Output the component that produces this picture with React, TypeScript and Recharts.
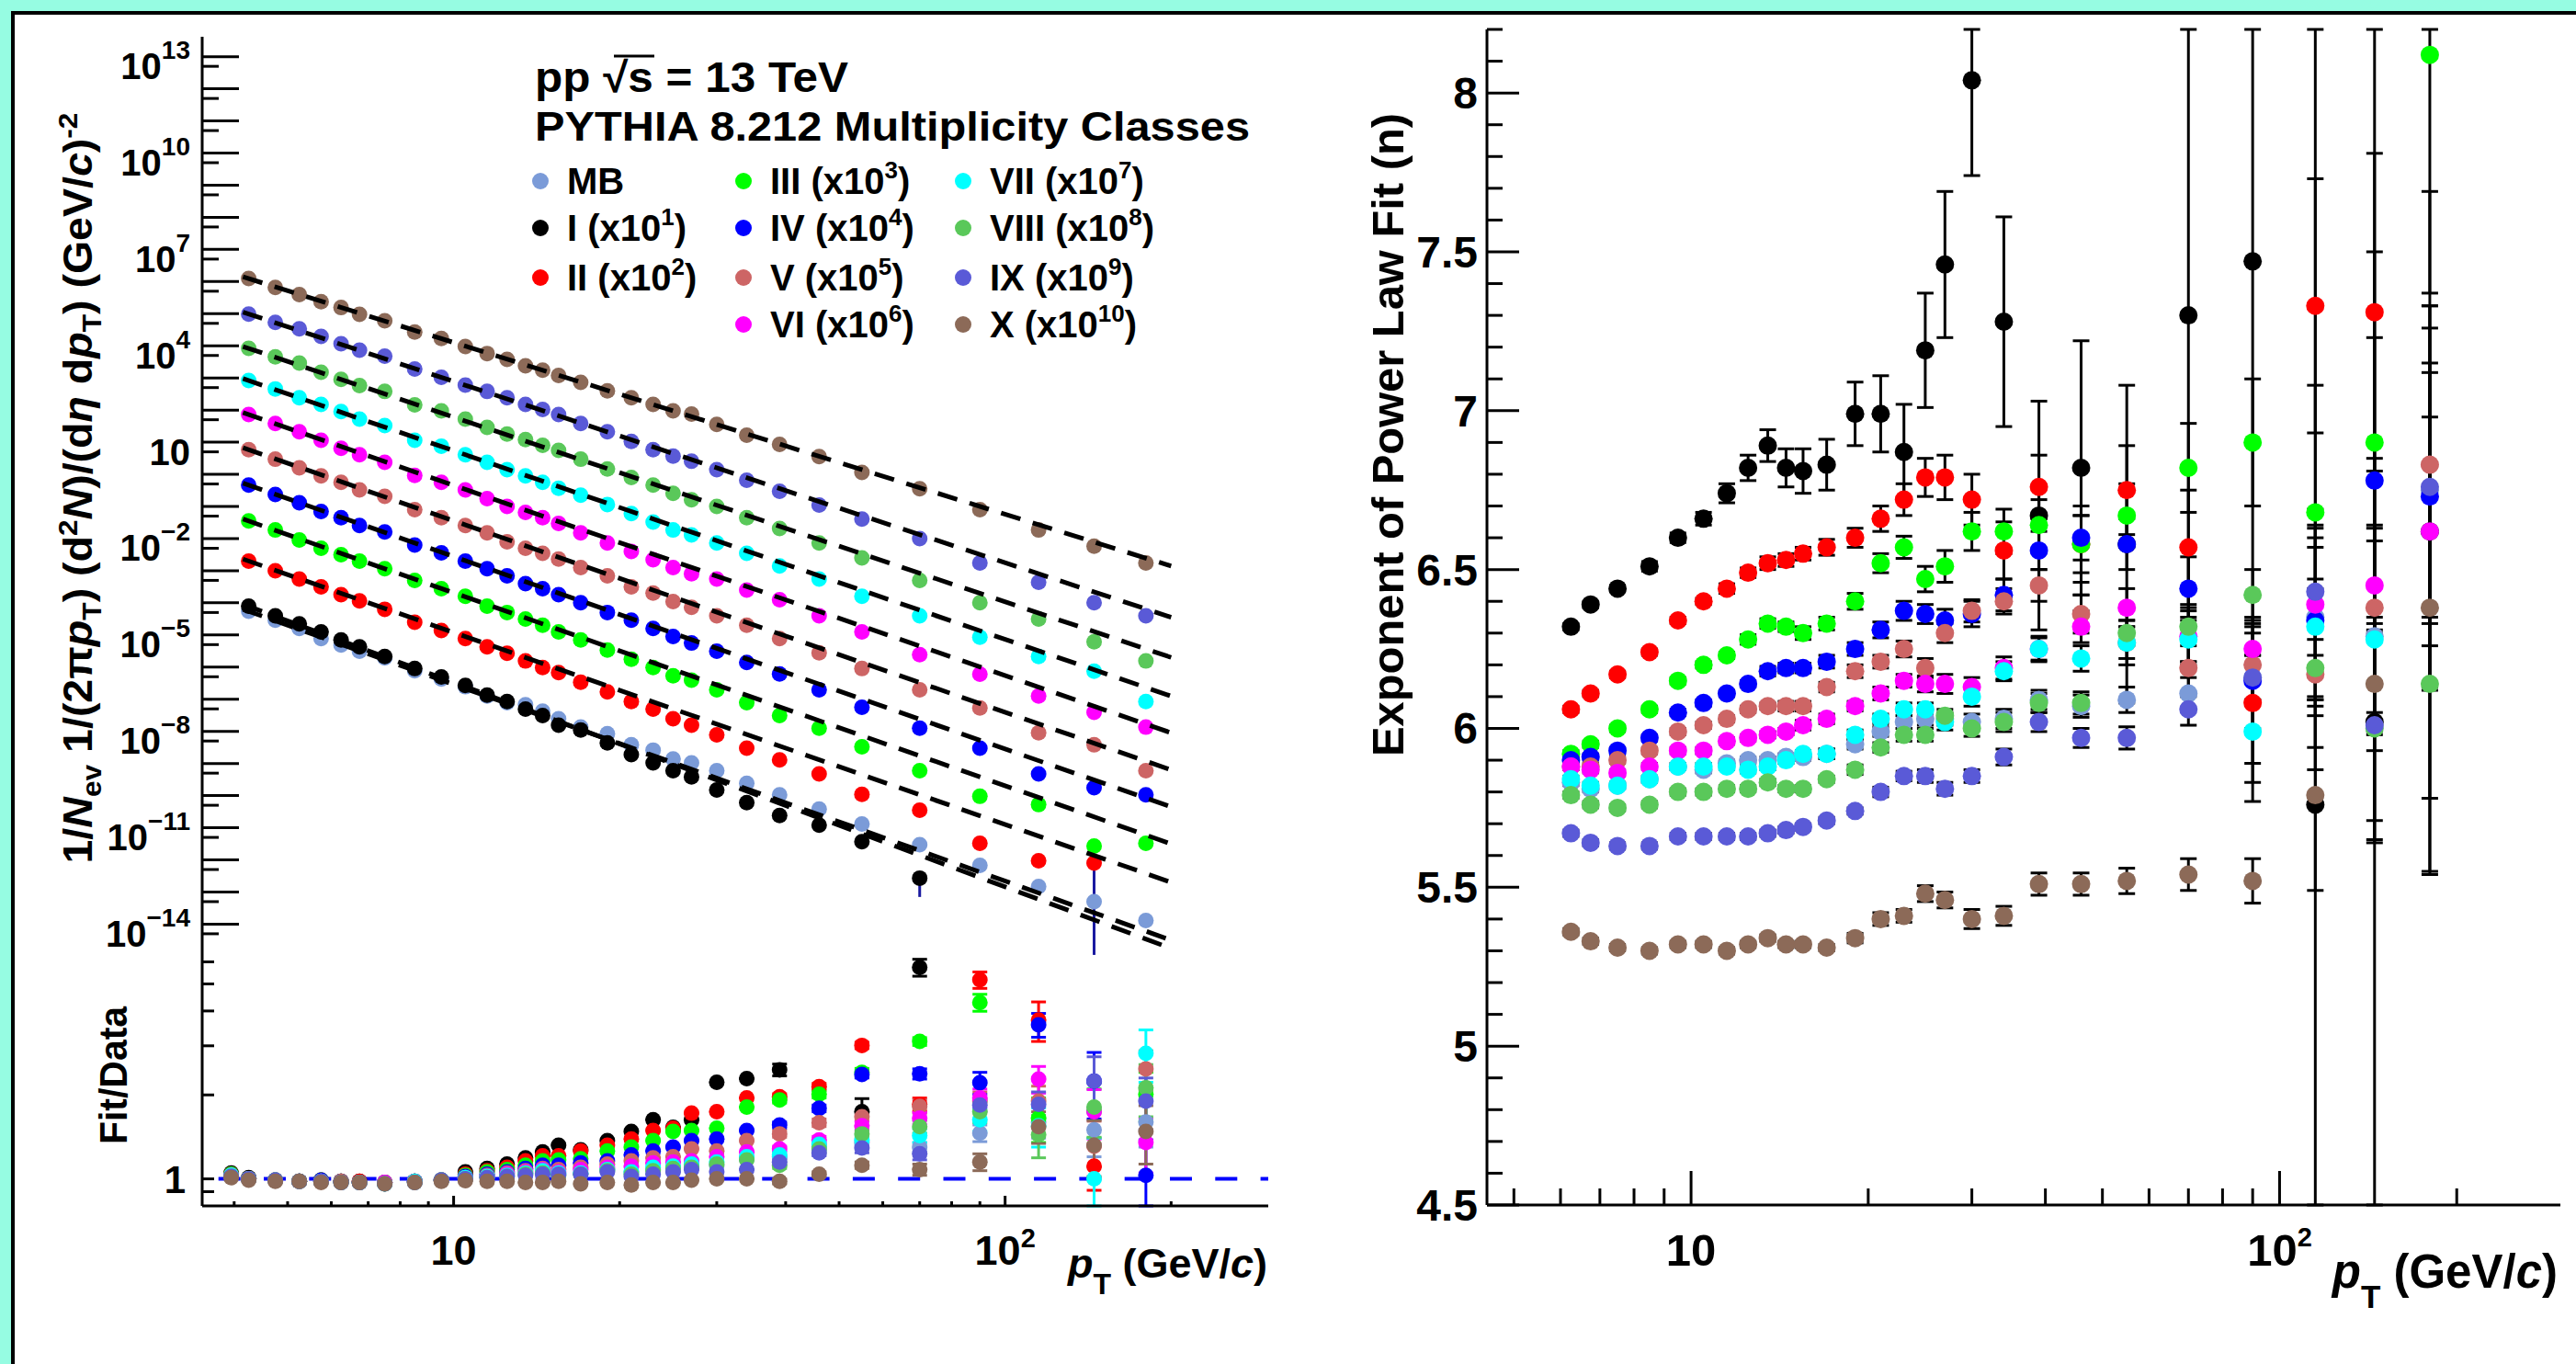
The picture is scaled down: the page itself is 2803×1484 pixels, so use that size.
import React from "react";
import { ScatterChart, Scatter, XAxis, YAxis, ErrorBar, ReferenceLine } from "recharts";

const FONT = "'Liberation Sans', Arial, Helvetica, sans-serif";

// multiplicity classes
const CLASS_NAMES = ["MB", "I", "II", "III", "IV", "V", "VI", "VII", "VIII", "IX", "X"];
const CLASS_POW = ["", "1", "2", "3", "4", "5", "6", "7", "8", "9", "10"];
const CLASS_COLORS = ["#7b9bd8", "#000000", "#ff0000", "#00ff00", "#0000ff", "#cd6565", "#ff00ff", "#00ffff", "#5ac85a", "#5a5ad7", "#8c6a58"];

// pT bin centres (GeV/c)
const PT_SPEC = [4.25, 4.75, 5.25, 5.75, 6.25, 6.75, 7.5, 8.5, 9.5, 10.5, 11.5, 12.5, 13.5, 14.5, 15.5, 17, 19, 21, 23, 25, 27, 30, 34, 39, 46, 55, 70, 90, 115, 145, 180];
const PT_RATIO = [3.95, 4.25, 4.75, 5.25, 5.75, 6.25, 6.75, 7.5, 8.5, 9.5, 10.5, 11.5, 12.5, 13.5, 14.5, 15.5, 17, 19, 21, 23, 25, 27, 30, 34, 39, 46, 55, 70, 90, 115, 145, 180];
const PT_EXP = [6.25, 6.75, 7.5, 8.5, 9.5, 10.5, 11.5, 12.5, 13.5, 14.5, 15.5, 17, 19, 21, 23, 25, 27, 30, 34, 39, 46, 55, 70, 90, 115, 145, 180];

// spectra (already scaled by the class factor)
const SPEC_MB = [1.1e-4, 5.8e-5, 3.2e-5, 1.55e-5, 9.8e-6, 6.2e-6, 3.9e-6, 1.55e-6, 8.5e-7, 4.9e-7, 2.5e-7, 1.55e-7, 1.35e-7, 8.5e-8, 4.9e-8, 2.7e-8, 1.7e-8, 7.6e-9, 5.2e-9, 2.75e-9, 2.1e-9, 1.2e-9, 4.8e-10, 2.1e-10, 7.6e-11, 2.6e-11, 5.9e-12, 1.35e-12, 2.95e-13, 1.0e-13, 2.6e-14];
const SPEC_I = [1.58e-4, 7.9e-5, 4.4e-5, 2.5e-5, 1.4e-5, 8.5e-6, 4.3e-6, 1.8e-6, 9.8e-7, 5.4e-7, 2.7e-7, 1.7e-7, 9.8e-8, 6.2e-8, 3.1e-8, 2.2e-8, 8.7e-9, 3.8e-9, 2.1e-9, 1.2e-9, 7.6e-10, 3.0e-10, 1.2e-10, 4.8e-11, 2.4e-11, 7.4e-12, 5.4e-13, null, null, null, null];
const SPEC_II = [0.004, 0.002, 0.0011, 6.3e-4, 3.6e-4, 2.3e-4, 1.26e-4, 5.0e-5, 2.75e-5, 1.55e-5, 8.5e-6, 5.4e-6, 3.1e-6, 1.95e-6, 1.35e-6, 6.8e-7, 3.4e-7, 1.7e-7, 9.8e-8, 4.9e-8, 3.1e-8, 1.55e-8, 6.0e-9, 2.6e-9, 9.5e-10, 2.2e-10, 7e-11, 6.5e-12, 1.86e-12, 1.6e-12, null];
const SPEC_III = [0.071, 0.037, 0.018, 0.01, 0.0063, 0.004, 0.0023, 0.001, 5.5e-4, 3.2e-4, 1.58e-4, 1.0e-4, 6.3e-5, 4.0e-5, 2.5e-5, 1.4e-5, 6.8e-6, 3.5e-6, 1.95e-6, 1.07e-6, 7.8e-7, 3.9e-7, 1.55e-7, 6.2e-8, 2.5e-8, 6.6e-9, 1.2e-9, 1.9e-10, 1.05e-10, 5.4e-12, 6.5e-12];
const SPEC_IV = [0.93, 0.47, 0.26, 0.14, 0.089, 0.051, 0.032, 0.0126, 0.0072, 0.004, 0.0023, 0.00138, 7.9e-4, 5.5e-4, 3.6e-4, 2.0e-4, 1.0e-4, 5.8e-5, 3.2e-5, 1.8e-5, 1.12e-5, 6.2e-6, 2.8e-6, 1.23e-6, 3.9e-7, 1.12e-7, 2.5e-8, 6.0e-9, 9.5e-10, 3.5e-10, 2.1e-10];
const SPEC_V = [11.7, 5.9, 3.2, 1.8, 1.12, 0.65, 0.41, 0.16, 0.089, 0.051, 0.03, 0.0158, 0.01, 0.0069, 0.0046, 0.0025, 0.00138, 6.3e-4, 4.0e-4, 2.2e-4, 1.45e-4, 7.9e-5, 4.0e-5, 1.55e-5, 5.6e-6, 1.8e-6, 3.9e-7, 1.07e-7, 1.8e-8, 7.6e-9, 1.2e-9];
const SPEC_VI = [145, 76, 42, 23, 12.9, 8.1, 4.7, 1.86, 1.12, 0.65, 0.35, 0.2, 0.13, 0.089, 0.059, 0.03, 0.0145, 0.0079, 0.0044, 0.0025, 0.0016, 0.0011, 5.0e-4, 2.5e-4, 7.9e-5, 2.5e-5, 4.9e-6, 1.2e-6, 2.5e-7, 7.8e-8, 2.7e-8];
const SPEC_VII = [1660, 910, 480, 300, 180, 105, 66, 23, 15, 8.1, 4.7, 2.8, 1.8, 1.12, 0.74, 0.45, 0.23, 0.12, 0.065, 0.037, 0.026, 0.0145, 0.0069, 0.0028, 0.0011, 3.2e-4, 7.9e-5, 1.7e-5, 4.3e-6, 1.5e-6, 1.7e-7];
const SPEC_VIII = [1.66e4, 9100, 5800, 3000, 1800, 1150, 760, 290, 190, 105, 58, 36, 24, 16, 11.2, 5.9, 2.95, 1.6, 0.93, 0.51, 0.32, 0.2, 0.089, 0.041, 0.0145, 0.005, 0.001, 2.0e-4, 6.3e-5, 1.23e-5, 3.1e-6];
const SPEC_IX = [1.95e5, 1.07e5, 6.8e4, 3.9e4, 2.3e4, 1.45e4, 9500, 3800, 2100, 1200, 760, 480, 300, 210, 145, 76, 42, 21, 11.7, 7.4, 5.1, 2.8, 1.3, 0.59, 0.22, 0.081, 0.02, 0.0035, 8.7e-4, 2.0e-4, 7.9e-5];
const SPEC_X = [2.5e6, 1.3e6, 7.8e5, 4.7e5, 3.1e5, 1.9e5, 1.2e5, 5.4e4, 3.4e4, 1.9e4, 1.15e4, 7600, 4800, 3500, 2400, 1450, 790, 480, 300, 190, 150, 72, 33, 17, 7.1, 2.3, 0.71, 0.16, 0.037, 0.0115, 0.0035];
const SPECTRA = [SPEC_MB, SPEC_I, SPEC_II, SPEC_III, SPEC_IV, SPEC_V, SPEC_VI, SPEC_VII, SPEC_VIII, SPEC_IX, SPEC_X];

// the two visible spectrum error bars (bin index, class index, lower error)
const SPEC_ERR_BARS = [
  { i: 26, c: 1, lo: 4.0e-13 },
  { i: 29, c: 2, lo: 1.5978e-12 },
];

// power-law fit lines: value at start and end pT
const FIT_PT = [4.15, 200];
const FIT_START = [1.26e-4, 1.8e-4, 4.6e-3, 8.1e-2, 1.07, 13.5, 166, 1900, 1.9e4, 2.24e5, 2.8e6];
const FIT_END = [6.3e-15, 3.5e-15, 4.0e-13, 6.3e-12, 8.9e-11, 1.26e-9, 1.8e-8, 2.5e-7, 4.0e-6, 7.1e-5, 2.8e-3];

// Fit/Data ratios
const RAT_MB = [1.03, 1.0, 0.99, 0.98, 0.98, 0.97, 0.97, 0.96, 0.97, 0.99, 1.01, 1.02, 1.03, 1.05, 1.06, 1.03, 1.05, 1.08, 1.06, 1.08, 1.10, 1.12, 1.12, 1.18, 1.20, 1.30, 1.35, 1.30, 1.46, 1.60, 1.50, 1.60];
const RAT_I = [1.05, 1.01, 0.99, 0.98, 0.99, 0.98, 0.98, 0.97, 0.98, 0.99, 1.06, 1.09, 1.13, 1.19, 1.25, 1.32, 1.27, 1.37, 1.48, 1.63, 1.53, 1.63, 2.22, 2.29, 2.46, null, 1.74, 5.73, null, null, null, null];
const RAT_II = [1.04, 1.0, 0.99, 0.98, 0.99, 0.98, 0.98, 0.97, 0.98, 0.99, 1.04, 1.07, 1.10, 1.16, 1.21, 1.21, 1.26, 1.32, 1.39, 1.49, 1.52, 1.72, 1.74, 1.95, 1.97, 2.14, 3.01, 1.85, 5.17, 3.71, 1.11, null];
const RAT_III = [1.04, 1.0, 0.99, 0.98, 0.99, 0.98, 0.97, 0.97, 0.98, 0.99, 1.03, 1.06, 1.08, 1.12, 1.16, 1.17, 1.18, 1.26, 1.30, 1.37, 1.48, 1.49, 1.52, 1.81, 1.92, 2.01, 2.41, 3.11, 4.29, 1.65, 1.75, 2.01];
const RAT_IV = [1.03, 1.0, 0.99, 0.98, 0.99, 0.98, 0.97, 0.97, 0.98, 0.99, 1.02, 1.04, 1.06, 1.09, 1.12, 1.12, 1.14, 1.16, 1.22, 1.26, 1.30, 1.37, 1.39, 1.49, 1.56, 1.79, 2.37, 2.38, 2.21, 3.57, 2.24, 1.03];
const RAT_V = [1.03, 1.0, 0.99, 0.98, 0.98, 0.98, 0.97, 0.97, 0.98, 0.99, 1.01, 1.03, 1.05, 1.07, 1.09, 1.08, 1.10, 1.13, 1.16, 1.19, 1.20, 1.28, 1.26, 1.37, 1.45, 1.59, 1.67, 1.82, 1.90, 1.90, 1.31, 2.48];
const RAT_VI = [1.03, 1.0, 0.99, 0.98, 0.98, 0.97, 0.97, 0.97, 0.98, 0.99, 1.01, 1.02, 1.04, 1.06, 1.08, 1.06, 1.08, 1.10, 1.11, 1.14, 1.15, 1.16, 1.20, 1.25, 1.28, 1.38, 1.55, 1.65, 1.95, 2.28, 1.74, 1.35];
const RAT_VII = [1.03, 1.0, 0.99, 0.98, 0.98, 0.97, 0.97, 0.96, 0.98, 0.99, 1.01, 1.02, 1.03, 1.05, 1.07, 1.05, 1.05, 1.08, 1.06, 1.10, 1.11, 1.13, 1.15, 1.20, 1.22, 1.33, 1.38, 1.43, 1.63, 1.55, 1.00, 2.82];
const RAT_VIII = [1.02, 1.0, 0.99, 0.98, 0.98, 0.97, 0.97, 0.96, 0.97, 0.99, 1.0, 1.01, 1.02, 1.04, 1.05, 1.03, 1.04, 1.07, 1.04, 1.07, 1.09, 1.10, 1.13, 1.17, 1.12, 1.28, 1.45, 1.54, 1.74, 1.44, 1.81, 2.12];
const RAT_IX = [1.02, 1.0, 0.99, 0.98, 0.98, 0.97, 0.97, 0.96, 0.97, 0.99, 1.0, 1.01, 1.02, 1.03, 1.04, 1.04, 1.04, 1.06, 1.02, 1.04, 1.06, 1.08, 1.06, 1.08, 1.15, 1.24, 1.29, 1.23, 1.84, 1.85, 2.24, 1.90];
const RAT_X = [1.01, 0.99, 0.98, 0.98, 0.97, 0.97, 0.97, 0.96, 0.97, 0.98, 0.985, 0.98, 0.98, 0.97, 0.97, 0.98, 0.96, 0.97, 0.95, 0.97, 0.97, 0.99, 1.00, 1.00, 0.98, 1.04, 1.12, 1.08, 1.15, 1.54, 1.32, 1.48];
const RATIOS = [RAT_MB, RAT_I, RAT_II, RAT_III, RAT_IV, RAT_V, RAT_VI, RAT_VII, RAT_VIII, RAT_IX, RAT_X];

// ratio errors for the last bins (39, 46, 55, 70, 90, 115, 145, 180 GeV/c)
const RERR_MB = [0.02, 0.03, 0.04, 0.05, 0.1, 0.2, 0.3, 0.3];
const RERR_I = [0.12, 0, 0.2, 0.4, 0, 0, 0, 0];
const RERR_II = [0.05, 0.06, 0.08, 0.1, 0.35, 0.6, 0.2, 0];
const RERR_III = [0.05, 0.06, 0.08, 0.1, 0.3, 0.3, 0.35, 0.4];
const RERR_IV = [0.04, 0.05, 0.07, 0.1, 0.2, 0.35, 0.6, 0.35];
const RERR_V = [0.04, 0.05, 0.06, 0.1, 0.15, 0.25, 0.3, 0.4];
const RERR_VI = [0.03, 0.04, 0.06, 0.08, 0.15, 0.25, 0.35, 0.3];
const RERR_VII = [0.03, 0.04, 0.05, 0.08, 0.15, 0.25, 0.4, 0.6];
const RERR_VIII = [0.03, 0.04, 0.05, 0.08, 0.15, 0.25, 0.4, 0.45];
const RERR_IX = [0.03, 0.03, 0.05, 0.06, 0.1, 0.2, 0.5, 0.4];
const RERR_X = [0.02, 0.02, 0.03, 0.05, 0.08, 0.2, 0.3, 0.35];
const RATIO_ERRS = [RERR_MB, RERR_I, RERR_II, RERR_III, RERR_IV, RERR_V, RERR_VI, RERR_VII, RERR_VIII, RERR_IX, RERR_X];

// exponent of power-law fit (n)
const EXP_MB = [5.83, 5.81, 5.82, 5.84, 5.88, 5.87, 5.89, 5.90, 5.90, 5.91, 5.91, 5.92, 5.95, 5.99, 6.02, 6.03, 6.03, 6.02, 6.03, 6.09, 6.07, 6.09, 6.11, 6.16, 6.35, 6.29, 6.75];
const EXP_I = [6.32, 6.39, 6.44, 6.51, 6.60, 6.66, 6.74, 6.82, 6.89, 6.82, 6.81, 6.83, 6.99, 6.99, 6.87, 7.19, 7.46, 8.04, 7.28, 6.67, 6.82, 6.58, 7.30, 7.47, 5.76, 6.02, 6.62];
const EXP_II = [6.06, 6.11, 6.17, 6.24, 6.34, 6.40, 6.44, 6.49, 6.52, 6.53, 6.55, 6.57, 6.60, 6.66, 6.72, 6.79, 6.79, 6.72, 6.56, 6.76, 6.58, 6.75, 6.57, 6.08, 7.33, 7.31, null];
const EXP_III = [5.92, 5.95, 6.00, 6.06, 6.15, 6.20, 6.23, 6.28, 6.33, 6.32, 6.30, 6.33, 6.40, 6.52, 6.57, 6.47, 6.51, 6.62, 6.62, 6.64, 6.58, 6.67, 6.82, 6.90, 6.68, 6.90, 8.12];
const EXP_IV = [5.90, 5.91, 5.93, 5.97, 6.05, 6.08, 6.11, 6.14, 6.18, 6.19, 6.19, 6.21, 6.25, 6.31, 6.37, 6.36, 6.34, 6.36, 6.42, 6.56, 6.60, 6.58, 6.44, 6.15, 6.34, 6.78, 6.73];
const EXP_V = [5.88, 5.88, 5.90, 5.93, 5.99, 6.01, 6.03, 6.06, 6.07, 6.07, 6.07, 6.13, 6.18, 6.21, 6.25, 6.19, 6.30, 6.37, 6.40, 6.45, 6.36, 6.27, 6.19, 6.20, 6.17, 6.38, 6.83];
const EXP_VI = [5.88, 5.87, 5.86, 5.88, 5.93, 5.93, 5.96, 5.97, 5.98, 5.99, 6.01, 6.03, 6.07, 6.11, 6.15, 6.14, 6.14, 6.13, 6.19, 6.25, 6.32, 6.38, 6.29, 6.25, 6.39, 6.45, 6.62];
const EXP_VII = [5.84, 5.82, 5.82, 5.84, 5.88, 5.88, 5.88, 5.87, 5.88, 5.90, 5.92, 5.92, 5.98, 6.03, 6.06, 6.06, 6.02, 6.10, 6.18, 6.25, 6.22, 6.27, 6.28, 5.99, 6.32, 6.28, null];
const EXP_VIII = [5.79, 5.76, 5.75, 5.76, 5.80, 5.80, 5.81, 5.81, 5.83, 5.81, 5.81, 5.84, 5.87, 5.94, 5.98, 5.98, 6.04, 6.00, 6.02, 6.08, 6.08, 6.30, 6.32, 6.42, 6.19, 6.00, 6.14];
const EXP_IX = [5.67, 5.64, 5.63, 5.63, 5.66, 5.66, 5.66, 5.66, 5.67, 5.68, 5.69, 5.71, 5.74, 5.80, 5.85, 5.85, 5.81, 5.85, 5.91, 6.02, 5.97, 5.97, 6.06, 6.16, 6.43, 6.01, 6.76];
const EXP_X = [5.36, 5.33, 5.31, 5.30, 5.32, 5.32, 5.30, 5.32, 5.34, 5.32, 5.32, 5.31, 5.34, 5.40, 5.41, 5.48, 5.46, 5.40, 5.41, 5.51, 5.51, 5.52, 5.54, 5.52, 5.79, 6.14, 6.38];
const EXPONENTS = [EXP_MB, EXP_I, EXP_II, EXP_III, EXP_IV, EXP_V, EXP_VI, EXP_VII, EXP_VIII, EXP_IX, EXP_X];

const EERR_MB = [0.01, 0.01, 0.01, 0.01, 0.01, 0.01, 0.01, 0.01, 0.01, 0.01, 0.01, 0.015, 0.015, 0.015, 0.02, 0.02, 0.02, 0.025, 0.03, 0.03, 0.035, 0.04, 0.05, 0.07, 0.25, 0.3, 0.4];
const EERR_I = [0.01, 0.01, 0.01, 0.015, 0.015, 0.02, 0.03, 0.04, 0.05, 0.06, 0.07, 0.08, 0.1, 0.12, 0.15, 0.18, 0.23, 0.3, 0.33, 0.36, 0.4, 0.5, 1.1, 1.7, 3.5, 3.5, 1.07];
const EERR_II = [0.01, 0.01, 0.01, 0.01, 0.01, 0.01, 0.015, 0.015, 0.02, 0.02, 0.02, 0.025, 0.03, 0.04, 0.05, 0.06, 0.07, 0.08, 0.09, 0.1, 0.12, 0.14, 0.18, 0.25, 0.4, 0.5, 0];
const EERR_III = [0.01, 0.01, 0.01, 0.01, 0.01, 0.01, 0.01, 0.015, 0.015, 0.015, 0.02, 0.02, 0.025, 0.03, 0.035, 0.04, 0.05, 0.06, 0.07, 0.08, 0.09, 0.1, 0.14, 0.2, 0.4, 0.6, 0.75];
const EERR_IV = [0.01, 0.01, 0.01, 0.01, 0.01, 0.01, 0.01, 0.01, 0.015, 0.015, 0.015, 0.02, 0.02, 0.025, 0.03, 0.03, 0.035, 0.04, 0.05, 0.06, 0.07, 0.08, 0.1, 0.15, 0.3, 0.45, 0.6];
const EERR_V = [0.01, 0.01, 0.01, 0.01, 0.01, 0.01, 0.01, 0.01, 0.01, 0.015, 0.015, 0.015, 0.02, 0.02, 0.025, 0.03, 0.03, 0.035, 0.04, 0.05, 0.06, 0.07, 0.09, 0.12, 0.3, 0.4, 0.5];
const EERR_VI = [0.01, 0.01, 0.01, 0.01, 0.01, 0.01, 0.01, 0.01, 0.01, 0.01, 0.015, 0.015, 0.015, 0.02, 0.02, 0.025, 0.03, 0.03, 0.035, 0.04, 0.05, 0.06, 0.08, 0.1, 0.3, 0.4, 0.5];
const EERR_VII = [0.01, 0.01, 0.01, 0.01, 0.01, 0.01, 0.01, 0.01, 0.01, 0.01, 0.01, 0.015, 0.015, 0.015, 0.02, 0.02, 0.025, 0.03, 0.03, 0.035, 0.04, 0.05, 0.07, 0.1, 0.25, 0.35, 0];
const EERR_VIII = [0.01, 0.01, 0.01, 0.01, 0.01, 0.01, 0.01, 0.01, 0.01, 0.01, 0.01, 0.01, 0.015, 0.015, 0.02, 0.02, 0.02, 0.025, 0.03, 0.03, 0.035, 0.04, 0.06, 0.08, 0.25, 0.35, 0.6];
const EERR_IX = [0.01, 0.01, 0.01, 0.01, 0.01, 0.01, 0.01, 0.01, 0.01, 0.01, 0.01, 0.01, 0.01, 0.015, 0.015, 0.02, 0.02, 0.02, 0.025, 0.03, 0.03, 0.035, 0.05, 0.07, 0.2, 0.3, 0.5];
const EERR_X = [0.01, 0.01, 0.01, 0.01, 0.01, 0.01, 0.01, 0.01, 0.01, 0.01, 0.01, 0.01, 0.015, 0.02, 0.02, 0.025, 0.025, 0.03, 0.03, 0.035, 0.035, 0.04, 0.05, 0.07, 0.3, 0.5, 0.6];
const EXP_ERRS = [EERR_MB, EERR_I, EERR_II, EERR_III, EERR_IV, EERR_V, EERR_VI, EERR_VII, EERR_VIII, EERR_IX, EERR_X];

// axis ticks and labels
const X_TICKS_LEFT = [4, 5, 6, 7, 8, 9, 10, 20, 30, 40, 50, 60, 70, 80, 90, 100, 200];
const X_TICKS_RIGHT = [5, 6, 7, 8, 9, 10, 20, 30, 40, 50, 60, 70, 80, 90, 100, 200];
const SPEC_LABEL_EXP = [13, 10, 7, 4, 1, -2, -5, -8, -11, -14];
const RATIO_TICKS = [0.9, 1, 2, 3, 4, 5, 6];
const EXP_LABELS = ["4.5", "5", "5.5", "6", "6.5", "7", "7.5", "8"];

const SPEC_DOMAIN = [Math.pow(10, -14.66), Math.pow(10, 13.92)];
const RATIO_DOMAIN = [0.8, 6.35];
const EXP_DOMAIN = [4.5, 8.2];
const SPEC_TICKS: number[] = [];
for (let k = -15; k <= 13; k++) {
  [1, 2].forEach((m) => {
    const v = m * Math.pow(10, k);
    if (v > SPEC_DOMAIN[0] && v < SPEC_DOMAIN[1]) SPEC_TICKS.push(v);
  });
}
const EXP_TICKS: number[] = [];
for (let i = 45; i <= 82; i++) EXP_TICKS.push(i / 10);

const isDecade = (v: number) => Math.abs(Math.log10(v) - Math.round(Math.log10(v))) < 1e-6;
const AXIS = { stroke: "#000", strokeWidth: 3 };

type Side = "bottom" | "top" | "left" | "right";
const makeTick =
  (side: Side, len: (v: number) => number, label?: (v: number, x: number, y: number) => React.ReactNode) =>
  (props: any) => {
    const { x, y, payload } = props;
    const v = payload.value;
    const L = len(v);
    let x2 = x;
    let y2 = y;
    if (side === "bottom") y2 = y - L;
    else if (side === "top") y2 = y + L;
    else if (side === "left") x2 = x + L;
    else x2 = x - L;
    return (
      <g>
        <line x1={x} y1={y} x2={x2} y2={y2} stroke="#000" strokeWidth={3} />
        {label ? label(v, x, y) : null}
      </g>
    );
  };

const txt = { fontFamily: FONT, fontWeight: 700 as const, fill: "#000" };

const specYLabel = (v: number, x: number, y: number) => {
  if (!isDecade(v)) return null;
  const k = Math.round(Math.log10(v));
  if (!SPEC_LABEL_EXP.includes(k)) return null;
  return (
    <text x={x - 13} y={y + 14} textAnchor="end" fontSize={40} {...txt}>
      10
      {k !== 1 ? (
        <tspan dy={-22} fontSize={28}>
          {k < 0 ? "\u2212" + -k : String(k)}
        </tspan>
      ) : null}
    </text>
  );
};

const xLabel = (fs: number, sup: number, off: number) => (v: number, x: number, y: number) => {
  if (v === 10)
    return (
      <text x={x} y={y + off} textAnchor="middle" fontSize={fs} {...txt}>
        10
      </text>
    );
  if (v === 100)
    return (
      <text x={x} y={y + off} textAnchor="middle" fontSize={fs} {...txt}>
        10
        <tspan dy={-fs * 0.42} fontSize={sup}>
          2
        </tspan>
      </text>
    );
  return null;
};

const dot = (r: number, color: string) => (p: any) =>
  p.cx == null ? <g /> : <circle cx={p.cx} cy={p.cy} r={r} fill={color} />;
const noDot = () => <g />;

// error bars are cut at the frame, as the clip path does not cover them
const points = (xs: number[], ys: (number | null)[], es?: number[], dom?: number[]) =>
  xs
    .map((x, i) => {
      const y = ys[i];
      const e = es ? es[i] : 0;
      const err = dom && y != null ? [Math.max(0, Math.min(e, y - dom[0])), Math.max(0, Math.min(e, dom[1] - y))] : e;
      return { x, y, e: err };
    })
    .filter((p) => p.y != null);

function SpectraPanel() {
  const xMaj = (v: number) => (v === 10 || v === 100 ? 26 : 13);
  const yLen = (v: number) => (isDecade(v) ? 18 : 40);
  return (
    <ScatterChart width={1400} height={1045} margin={{ top: 40, right: 20, bottom: 6, left: 0 }}>
      <XAxis xAxisId="b" orientation="bottom" type="number" dataKey="x" scale="log" domain={[3.5, 300]} allowDataOverflow ticks={X_TICKS_LEFT} interval={0} height={0} tickSize={0} tickMargin={0} axisLine={AXIS} tickLine={false} tick={makeTick("bottom", xMaj)} />
      <XAxis xAxisId="t" orientation="top" type="number" dataKey="x" scale="log" domain={[3.5, 300]} allowDataOverflow ticks={X_TICKS_LEFT} interval={0} height={0} tickSize={0} tickMargin={0} axisLine={AXIS} tickLine={false} tick={makeTick("top", xMaj)} />
      <YAxis yAxisId="l" orientation="left" type="number" dataKey="y" scale="log" domain={SPEC_DOMAIN} allowDataOverflow ticks={SPEC_TICKS} interval={0} width={220} tickSize={0} tickMargin={0} axisLine={AXIS} tickLine={false} tick={makeTick("left", yLen, specYLabel)} />
      <YAxis yAxisId="r" orientation="right" type="number" dataKey="y" scale="log" domain={SPEC_DOMAIN} allowDataOverflow ticks={SPEC_TICKS} interval={0} width={0} tickSize={0} tickMargin={0} axisLine={AXIS} tickLine={false} tick={makeTick("right", yLen)} />
      <Scatter
        xAxisId="b"
        yAxisId="l"
        data={SPEC_ERR_BARS.map((b) => ({ x: PT_SPEC[b.i], y: SPECTRA[b.c][b.i], e: [b.lo, 0] }))}
        shape={noDot}
        isAnimationActive={false}
      >
        <ErrorBar dataKey="e" direction="y" width={0} stroke="#1a1aa0" strokeWidth={3} />
      </Scatter>
      {SPECTRA.map((s, i) => (
        <Scatter key={"s" + i} xAxisId="b" yAxisId="l" data={points(PT_SPEC, s)} shape={dot(8.5, CLASS_COLORS[i])} isAnimationActive={false} />
      ))}
      {FIT_START.map((v, i) => (
        <Scatter
          key={"f" + i}
          xAxisId="b"
          yAxisId="l"
          data={[
            { x: FIT_PT[0], y: v },
            { x: FIT_PT[1], y: FIT_END[i] },
          ]}
          line={{ stroke: "#000", strokeWidth: 5, strokeDasharray: "22 14" }}
          shape={noDot}
          isAnimationActive={false}
        />
      ))}
    </ScatterChart>
  );
}

function RatioPanel() {
  const xMaj = (v: number) => (v === 10 || v === 100 ? 11 : 5);
  const yLen = () => 13;
  const yLab = (v: number, x: number, y: number) =>
    v === 1 ? (
      <text x={x - 18} y={y + 15} textAnchor="end" fontSize={42} {...txt}>
        1
      </text>
    ) : null;
  const data = RATIOS.map((s, i) =>
    points(PT_RATIO, s, PT_RATIO.map((_, j) => (j >= 24 ? RATIO_ERRS[i][j - 24] : 0)), RATIO_DOMAIN)
  );
  return (
    <ScatterChart width={1400} height={484} margin={{ top: 39, right: 20, bottom: 72, left: 0 }}>
      <XAxis xAxisId="b" orientation="bottom" type="number" dataKey="x" scale="log" domain={[3.5, 300]} allowDataOverflow ticks={X_TICKS_LEFT} interval={0} height={100} tickSize={0} tickMargin={0} axisLine={AXIS} tickLine={false} tick={makeTick("bottom", xMaj, xLabel(45, 29, 64))} />
      <XAxis xAxisId="t" orientation="top" type="number" dataKey="x" scale="log" domain={[3.5, 300]} allowDataOverflow ticks={X_TICKS_LEFT} interval={0} height={0} tickSize={0} tickMargin={0} axisLine={AXIS} tickLine={false} tick={makeTick("top", xMaj)} />
      <YAxis yAxisId="l" orientation="left" type="number" dataKey="y" scale="log" domain={RATIO_DOMAIN} allowDataOverflow ticks={RATIO_TICKS} interval={0} width={220} tickSize={0} tickMargin={0} axisLine={AXIS} tickLine={false} tick={makeTick("left", yLen, yLab)} />
      <YAxis yAxisId="r" orientation="right" type="number" dataKey="y" scale="log" domain={RATIO_DOMAIN} allowDataOverflow ticks={RATIO_TICKS} interval={0} width={0} tickSize={0} tickMargin={0} axisLine={AXIS} tickLine={false} tick={makeTick("right", yLen)} />
      <ReferenceLine xAxisId="b" yAxisId="l" y={1} stroke="#0000ff" strokeWidth={4} strokeDasharray="24 25.3" strokeDashoffset={31.6} />
      {data.map((d, i) => (
        <Scatter key={"re" + i} xAxisId="b" yAxisId="l" data={d} shape={noDot} isAnimationActive={false}>
          <ErrorBar dataKey="e" direction="y" width={8} stroke={CLASS_COLORS[i]} strokeWidth={3} />
        </Scatter>
      ))}
      {data.map((d, i) => (
        <Scatter key={"r" + i} xAxisId="b" yAxisId="l" data={d} shape={dot(8.5, CLASS_COLORS[i])} isAnimationActive={false} />
      ))}
    </ScatterChart>
  );
}

function ExponentPanel() {
  const xMaj = (v: number) => (v === 10 || v === 100 ? 37 : 18);
  const yMaj = (v: number) => (Math.abs(v * 2 - Math.round(v * 2)) < 1e-6 ? 35 : 17);
  const yLab = (v: number, x: number, y: number) => {
    const s = String(Math.round(v * 10) / 10);
    return EXP_LABELS.includes(s) ? (
      <text x={x - 10} y={y + 17} textAnchor="end" fontSize={48} {...txt}>
        {s}
      </text>
    ) : null;
  };
  const data = EXPONENTS.map((s, i) => points(PT_EXP, s, EXP_ERRS[i], EXP_DOMAIN));
  return (
    <ScatterChart width={1403} height={1484} margin={{ top: 32, right: 17, bottom: 73, left: 0 }}>
      <XAxis xAxisId="b" orientation="bottom" type="number" dataKey="x" scale="log" domain={[4.5, 300]} allowDataOverflow ticks={X_TICKS_RIGHT} interval={0} height={100} tickSize={0} tickMargin={0} axisLine={AXIS} tickLine={false} tick={makeTick("bottom", xMaj, xLabel(49, 29, 66))} />
      <XAxis xAxisId="t" orientation="top" type="number" dataKey="x" scale="log" domain={[4.5, 300]} allowDataOverflow ticks={X_TICKS_RIGHT} interval={0} height={0} tickSize={0} tickMargin={0} axisLine={AXIS} tickLine={false} tick={makeTick("top", xMaj)} />
      <YAxis yAxisId="l" orientation="left" type="number" dataKey="y" domain={EXP_DOMAIN} allowDataOverflow ticks={EXP_TICKS} interval={0} width={218} tickSize={0} tickMargin={0} axisLine={AXIS} tickLine={false} tick={makeTick("left", yMaj, yLab)} />
      <YAxis yAxisId="r" orientation="right" type="number" dataKey="y" domain={EXP_DOMAIN} allowDataOverflow ticks={EXP_TICKS} interval={0} width={0} tickSize={0} tickMargin={0} axisLine={AXIS} tickLine={false} tick={makeTick("right", yMaj)} />
      {data.map((d, i) => (
        <Scatter key={"ee" + i} xAxisId="b" yAxisId="l" data={d} shape={noDot} isAnimationActive={false}>
          <ErrorBar dataKey="e" direction="y" width={9} stroke="#000" strokeWidth={3} />
        </Scatter>
      ))}
      {data.map((d, i) => (
        <Scatter key={"e" + i} xAxisId="b" yAxisId="l" data={d} shape={dot(10, CLASS_COLORS[i])} isAnimationActive={false} />
      ))}
    </ScatterChart>
  );
}

function Overlay() {
  const legendPos = [
    [588, 197], [588, 248], [588, 302],
    [809, 197], [809, 248], [809, 302], [809, 353],
    [1048, 197], [1048, 248], [1048, 302], [1048, 353],
  ];
  return (
    <svg width={2803} height={1484} style={{ position: "absolute", left: 0, top: 0, pointerEvents: "none" }}>
      {/* header */}
      <text x={582} y={100} fontSize={46} textLength={341} lengthAdjust="spacingAndGlyphs" {...txt}>
        pp {"\u221A"}s = 13 TeV
      </text>
      <line x1={668} y1={61} x2={712} y2={61} stroke="#000" strokeWidth={3} />
      <text x={582} y={153} fontSize={44} textLength={778} lengthAdjust="spacingAndGlyphs" {...txt}>
        PYTHIA 8.212 Multiplicity Classes
      </text>
      {/* legend */}
      {CLASS_NAMES.map((n, i) => (
        <g key={n}>
          <circle cx={legendPos[i][0]} cy={legendPos[i][1]} r={9} fill={CLASS_COLORS[i]} />
          <text x={legendPos[i][0] + 29} y={legendPos[i][1] + 14} fontSize={40} {...txt}>
            {n}
            {CLASS_POW[i] ? (
              <>
                {" (x10"}
                <tspan dy={-17} fontSize={26}>
                  {CLASS_POW[i]}
                </tspan>
                <tspan dy={17}>)</tspan>
              </>
            ) : null}
          </text>
        </g>
      ))}
      {/* left y title */}
      <text transform="translate(100,531) rotate(-90)" textAnchor="middle" fontSize={44} textLength={817} lengthAdjust="spacingAndGlyphs" {...txt}>
        1/<tspan fontStyle="italic">N</tspan>
        <tspan dy={10} fontSize={30}>ev</tspan>
        <tspan dy={-10}> 1/(2{"\u03C0"}</tspan>
        <tspan fontStyle="italic">p</tspan>
        <tspan dy={10} fontSize={30}>T</tspan>
        <tspan dy={-10}>) (d</tspan>
        <tspan dy={-16} fontSize={30}>2</tspan>
        <tspan dy={16} fontStyle="italic">N</tspan>
        <tspan>)/(d</tspan>
        <tspan fontStyle="italic">{"\u03B7"}</tspan>
        <tspan> d</tspan>
        <tspan fontStyle="italic">p</tspan>
        <tspan dy={10} fontSize={30}>T</tspan>
        <tspan dy={-10}>) (GeV/</tspan>
        <tspan fontStyle="italic">c</tspan>
        <tspan>)</tspan>
        <tspan dy={-16} fontSize={30}>-2</tspan>
      </text>
      <text transform="translate(138,1170) rotate(-90)" textAnchor="middle" fontSize={42} textLength={150} lengthAdjust="spacingAndGlyphs" {...txt}>
        Fit/Data
      </text>
      {/* left x title */}
      <text x={1379} y={1390} textAnchor="end" fontSize={45} {...txt}>
        <tspan fontStyle="italic">p</tspan>
        <tspan dy={18} fontSize={32}>T</tspan>
        <tspan dy={-18}> (GeV/</tspan>
        <tspan fontStyle="italic">c</tspan>
        <tspan>)</tspan>
      </text>
      {/* right titles */}
      <text transform="translate(1527,473) rotate(-90)" textAnchor="middle" fontSize={48} textLength={700} lengthAdjust="spacingAndGlyphs" {...txt}>
        Exponent of Power Law Fit (n)
      </text>
      <text x={2783} y={1401} textAnchor="end" fontSize={51} {...txt}>
        <tspan fontStyle="italic">p</tspan>
        <tspan dy={22} fontSize={35}>T</tspan>
        <tspan dy={-22}> (GeV/</tspan>
        <tspan fontStyle="italic">c</tspan>
        <tspan>)</tspan>
      </text>
    </svg>
  );
}

export default function App() {
  return (
    <div style={{ position: "absolute", left: 0, top: 0, width: 2803, height: 1484, overflow: "hidden", background: "#96fce2" }}>
      <div style={{ position: "absolute", left: 12, top: 12, width: 2803, height: 1484, background: "#fff", borderLeft: "4px solid #000", borderTop: "4px solid #000" }} />
      <div style={{ position: "absolute", left: 0, top: 0 }}>
        <SpectraPanel />
      </div>
      <div style={{ position: "absolute", left: 0, top: 1000 }}>
        <RatioPanel />
      </div>
      <div style={{ position: "absolute", left: 1400, top: 0 }}>
        <ExponentPanel />
      </div>
      <Overlay />
    </div>
  );
}
